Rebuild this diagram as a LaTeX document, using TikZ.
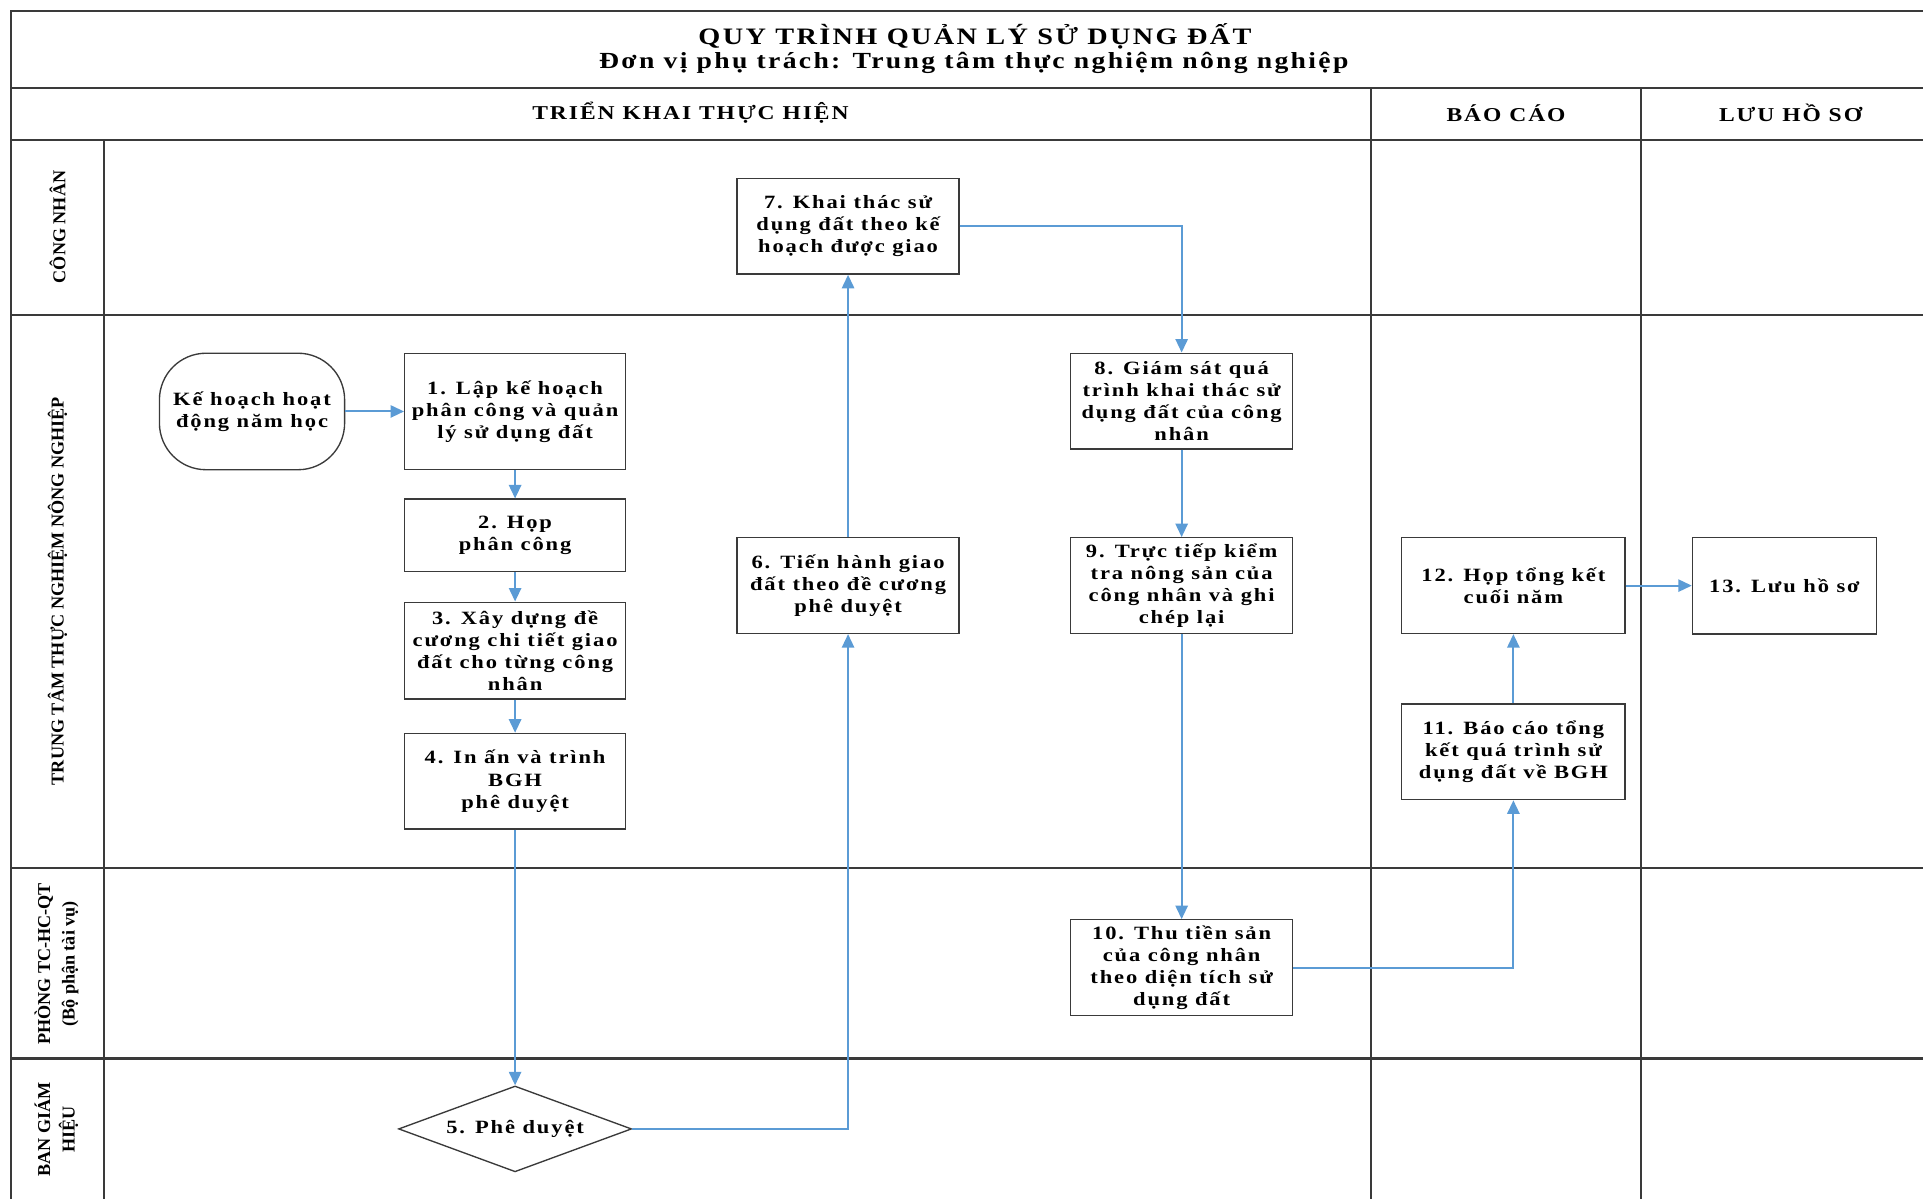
\documentclass[tikz,border=0pt]{standalone}
\usepackage{fontspec}
\setmainfont{Liberation Serif}
\newfontfamily\widefont[FakeStretch=1.2,LetterSpace=10]{Liberation Serif}
\usetikzlibrary{shapes.geometric,arrows.meta}
\definecolor{flowblue}{HTML}{5B9BD5}
\definecolor{gridgray}{HTML}{3A3A3A}
\tikzset{
  gridline/.style={draw=gridgray, line width=1.8pt},
  procbox/.style={draw=gridgray, line width=1.1pt, fill=white, minimum width=181pt,
    minimum height=78pt, inner sep=1pt, align=center,
    font=\widefont\bfseries\fontsize{15.3}{18}\selectfont},
  startbox/.style={procbox, rounded corners=38pt, minimum width=151pt, minimum height=95pt},
  decision/.style={diamond, draw=gridgray, line width=1.1pt, fill=white, aspect=2.7,
    minimum width=190pt, minimum height=70pt, inner sep=0pt,
    font=\widefont\bfseries\fontsize{15.3}{18}\selectfont},
  flowarrow/.style={draw=flowblue, line width=1.6pt, -{Triangle[length=11pt,width=10pt]}},
  lanelabel/.style={rotate=90, align=center, font=\bfseries\fontsize{14.8}{20}\selectfont},
  headtext/.style={font=\widefont\bfseries\fontsize{16}{18}\selectfont},
  titletext/.style={font=\widefont\bfseries\fontsize{19.2}{21}\selectfont},
  subtitletext/.style={font=\widefont\bfseries\fontsize{18.8}{21}\selectfont}
}
\begin{document}
\begin{tikzpicture}[x=1pt,y=-1pt]
\useasboundingbox (0,0) rectangle (1568,978);
% table grid
\draw[gridline] (1568,9) -- (9,9) -- (9,978);
\foreach \yy in {72,114,257,708,863} \draw[gridline] (9,\yy) -- (1568,\yy);
\draw[gridline] (85,114) -- (85,978);
\draw[gridline] (1118,72) -- (1118,978);
\draw[gridline] (1338,72) -- (1338,978);
% titles
\node[titletext] (title) at (795,30) {QUY TRÌNH QUẢN LÝ SỬ DỤNG ĐẤT};
\node[subtitletext] (subtitle) at (794,51.5) {Đơn vị phụ trách: Trung tâm thực nghiệm nông nghiệp};
\node[headtext] (hmain) at (563,92) {TRIỂN KHAI THỰC HIỆN};
\node[headtext] (hreport) at (1228,92) {BÁO CÁO};
\node[headtext] (harchive) at (1460,92) {LƯU HỒ SƠ};
% lane labels
\node[lanelabel] (lane1) at (47,185) {CÔNG NHÂN};
\node[lanelabel] (lane2) at (47,482) {TRUNG TÂM THỰC NGHIỆM NÔNG NGHIỆP};
\node[lanelabel] (lane3) at (46,786) {PHÒNG TC-HC-QT\\(Bộ phận tài vụ)};
\node[lanelabel] (lane4) at (46,921) {BAN GIÁM\\HIỆU};
% nodes
\node[startbox] (start) at (205.5,335.5) {Kế hoạch hoạt\\động năm học};
\node[procbox, minimum width=180pt, minimum height=95pt] (b1) at (420,335.5) {1. Lập kế hoạch\\phân công và quản\\lý sử dụng đất};
\node[procbox, minimum width=180pt, minimum height=59pt] (b2) at (420,436.5) {2. Họp\\phân công};
\node[procbox, minimum width=180pt, minimum height=79pt] (b3) at (420,530.5) {3. Xây dựng đề\\cương chi tiết giao\\đất cho từng công\\nhân};
\node[procbox, minimum width=180pt] (b4) at (420,637) {4. In ấn và trình\\BGH\\phê duyệt};
\node[decision] (d5) at (420,920.5) {5. Phê duyệt};
\node[procbox] (b6) at (691.5,477.5) {6. Tiến hành giao\\đất theo đề cương\\phê duyệt};
\node[procbox] (b7) at (691.5,184.5) {7. Khai thác sử\\dụng đất theo kế\\hoạch được giao};
\node[procbox] (b8) at (963.5,327) {8. Giám sát quá\\trình khai thác sử\\dụng đất của công\\nhân};
\node[procbox] (b9) at (963.5,477.5) {9. Trực tiếp kiểm\\tra nông sản của\\công nhân và ghi\\chép lại};
\node[procbox] (b10) at (963.5,789) {10. Thu tiền sản\\của công nhân\\theo diện tích sử\\dụng đất};
\node[procbox, minimum width=182pt] (b11) at (1234,613) {11. Báo cáo tổng\\kết quá trình sử\\dụng đất về BGH};
\node[procbox, minimum width=182pt] (b12) at (1234,477.5) {12. Họp tổng kết\\cuối năm};
\node[procbox, minimum width=150pt, minimum height=79pt] (b13) at (1455,477.5) {13. Lưu hồ sơ};
% connectors
\draw[flowarrow] (start) -- (b1);
\draw[flowarrow] (b1) -- (b2);
\draw[flowarrow] (b2) -- (b3);
\draw[flowarrow] (b3) -- (b4);
\draw[flowarrow] (b4) -- (d5);
\draw[flowarrow] (d5.east) -| (b6.south);
\draw[flowarrow] (b6) -- (b7);
\draw[flowarrow] (b7.east) -| (b8.north);
\draw[flowarrow] (b8) -- (b9);
\draw[flowarrow] (b9) -- (b10);
\draw[flowarrow] (b10.east) -| (b11.south);
\draw[flowarrow] (b11) -- (b12);
\draw[flowarrow] (b12) -- (b13);
\end{tikzpicture}
\end{document}
